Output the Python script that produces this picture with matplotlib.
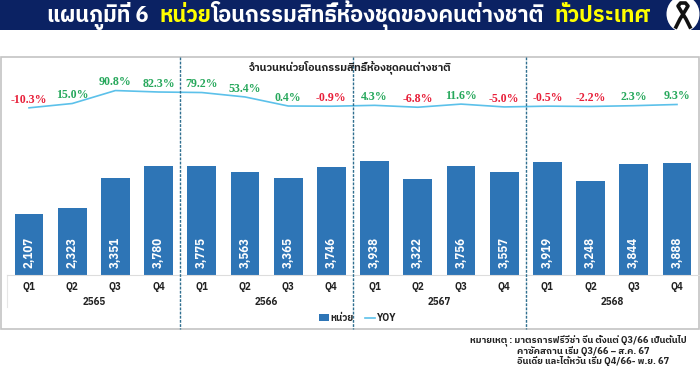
import matplotlib
matplotlib.use('Agg')
import matplotlib.pyplot as plt
from matplotlib import font_manager as fm
from matplotlib.patches import Rectangle, Ellipse
from matplotlib.lines import Line2D
from matplotlib.transforms import blended_transform_factory
import numpy as np

quarters = ['Q1', 'Q2', 'Q3', 'Q4'] * 4
years = ['2565', '2566', '2567', '2568']
units = [2107, 2323, 3351, 3780, 3775, 3563, 3365, 3746, 3938, 3322, 3756, 3557, 3919, 3248, 3844, 3888]
yoy = [-10.3, 15.0, 90.8, 82.3, 79.2, 53.4, 0.4, -0.9, 4.3, -6.8, 11.6, -5.0, -0.5, -2.2, 2.3, 9.3]

title_parts = [('แผนภูมิที่ 6 ', 'white'), ('หน่วย', '#ffff00'),
               ('โอนกรรมสิทธิ์ห้องชุดของคนต่างชาติ ', 'white'), ('ทั่วประเทศ', '#ffff00')]
chart_title = 'จำนวนหน่วยโอนกรรมสิทธิ์ห้องชุดคนต่างชาติ'
note_lines = ['หมายเหตุ : มาตรการฟรีวีซ่า จีน ตั้งแต่ Q3/66 เป็นต้นไป',
              'คาซัคสถาน เริ่ม Q3/66 – ส.ค. 67',
              'อินเดีย และไต้หวัน เริ่ม Q4/66- พ.ย. 67']

# find something that really has thai glyphs
thai = [f.name for f in fm.fontManager.ttflist if 'thai' in f.name.lower()]
plt.rcParams['font.family'] = thai[:1] + ['Noto Sans', 'DejaVu Sans']

W, H = 700, 374
fig = plt.figure(figsize=(7, 3.74), dpi=100)

def fx(x):
    return x / W

def fy(y):
    return 1 - y / H

# header
fig.add_artist(Rectangle((0, fy(29.5)), 1, 29.5 / H, transform=fig.transFigure, color='#0b2263', lw=0, zorder=-2))
head_clip = Rectangle((0, fy(29.5)), 1, 29.5 / H, transform=fig.transFigure)
badge = Ellipse((fx(683), fy(14)), 33 / W, 36 / H, transform=fig.transFigure, color='white', lw=0, zorder=-1)
fig.add_artist(badge)
badge.set_clip_path(head_clip)
rib_x = [676, 680, 685, 688, 685.5, 683, 680.5, 678, 681, 686, 690]
rib_y = [27, 19, 11, 6, 3, 3, 3, 6, 11, 19, 27]
fig.add_artist(Line2D([fx(v) for v in rib_x], [fy(v) for v in rib_y], color='#111111', lw=2.6, zorder=-1))

x_pos = 47
renderer = fig.canvas.get_renderer()
for part, col in title_parts:
    t = fig.text(fx(x_pos), fy(16), part, color=col, fontsize=15.7, fontweight='bold', va='center', ha='left')
    # trailing spaces are not measured, add them by hand
    x_pos += t.get_window_extent(renderer).width + (6 if part.endswith(' ') else 0)

# chart frame
fig.add_artist(Rectangle((fx(0.5), fy(329)), 698.5 / W, 272 / H, transform=fig.transFigure,
                         facecolor='white', edgecolor='#c4c4c4', lw=1.2, zorder=-2))

ax = fig.add_axes([fx(7.4), fy(274.5), 691.2 / W, 217.5 / H])
ax.patch.set_alpha(0)
x = np.arange(len(units))
bars = ax.bar(x, units, width=0.67, color='#2e75b6', label='หน่วย')
ax.set_xlim(-0.5, 15.5)
ax.set_ylim(0, 7552)
ax.set_yticks([])
ax.set_xticks(x)
ax.set_xticklabels(quarters, fontsize=7, fontweight='bold', color='#222222')
ax.tick_params(axis='x', length=0, pad=5.5)
for s in ['top', 'left', 'right']:
    ax.spines[s].set_visible(False)
ax.spines['bottom'].set_color('#dddddd')

for i, v in enumerate(units):
    ax.annotate(f'{v:,}', (x[i], 0), xytext=(0, 4.5), textcoords='offset points', rotation=90,
                ha='center', va='bottom', color='white', fontsize=8.3, fontweight='bold')

ax2 = ax.twinx()
ax2.patch.set_alpha(0)
ax2.set_ylim(-985, 287)
ax2.set_yticks([])
for s in ax2.spines.values():
    s.set_visible(False)
line, = ax2.plot(x, yoy, color='#5cc1ea', lw=1.2, label='YOY')
for i, v in enumerate(yoy):
    ax2.annotate(f'{v:.1f}%', (x[i], v), xytext=(0, 6), textcoords='offset points', ha='center', va='center',
                 color='#e8203a' if v < 0 else '#27a85c', fontsize=8.6, fontweight='bold',
                 family='Liberation Serif')

# year labels under the quarters
tr = blended_transform_factory(ax.transData, fig.transFigure)
for i, y in enumerate(years):
    ax.text(i * 4 + 1.5, fy(302), y, transform=tr, ha='center', va='center', fontsize=7,
            fontweight='bold', color='#222222', clip_on=False)
ax.plot([-0.5, -0.5], [fy(274.5), fy(307)], transform=tr, color='#e6e6e6', lw=0.8, clip_on=False)

# dashed year dividers
for i in [4, 8, 12]:
    ax2.plot([i - 0.5, i - 0.5], [fy(57), fy(329)], transform=tr, color='#2f6f8f', lw=1, ls='--',
             dashes=(2, 1), clip_on=False, zorder=5)

fig.text(fx(350), fy(67.5), chart_title, fontsize=7.8, fontweight='bold', color='#222222', ha='center', va='center')

fig.legend(handles=[bars, line], loc='center', bbox_to_anchor=(fx(357.5), fy(318)), ncol=2, frameon=False,
           prop={'size': 7, 'weight': 'bold'}, handlelength=1.05, handletextpad=0.15, columnspacing=1.2,
           labelcolor='#222222', borderpad=0)

for line_txt, lx, ly in zip(note_lines, [470, 517, 517], [340.5, 351, 361.5]):
    fig.text(fx(lx), fy(ly), line_txt, fontsize=6.7, fontweight='bold', color='#222222', ha='left', va='center')

fig.savefig('out.png', dpi=100)
